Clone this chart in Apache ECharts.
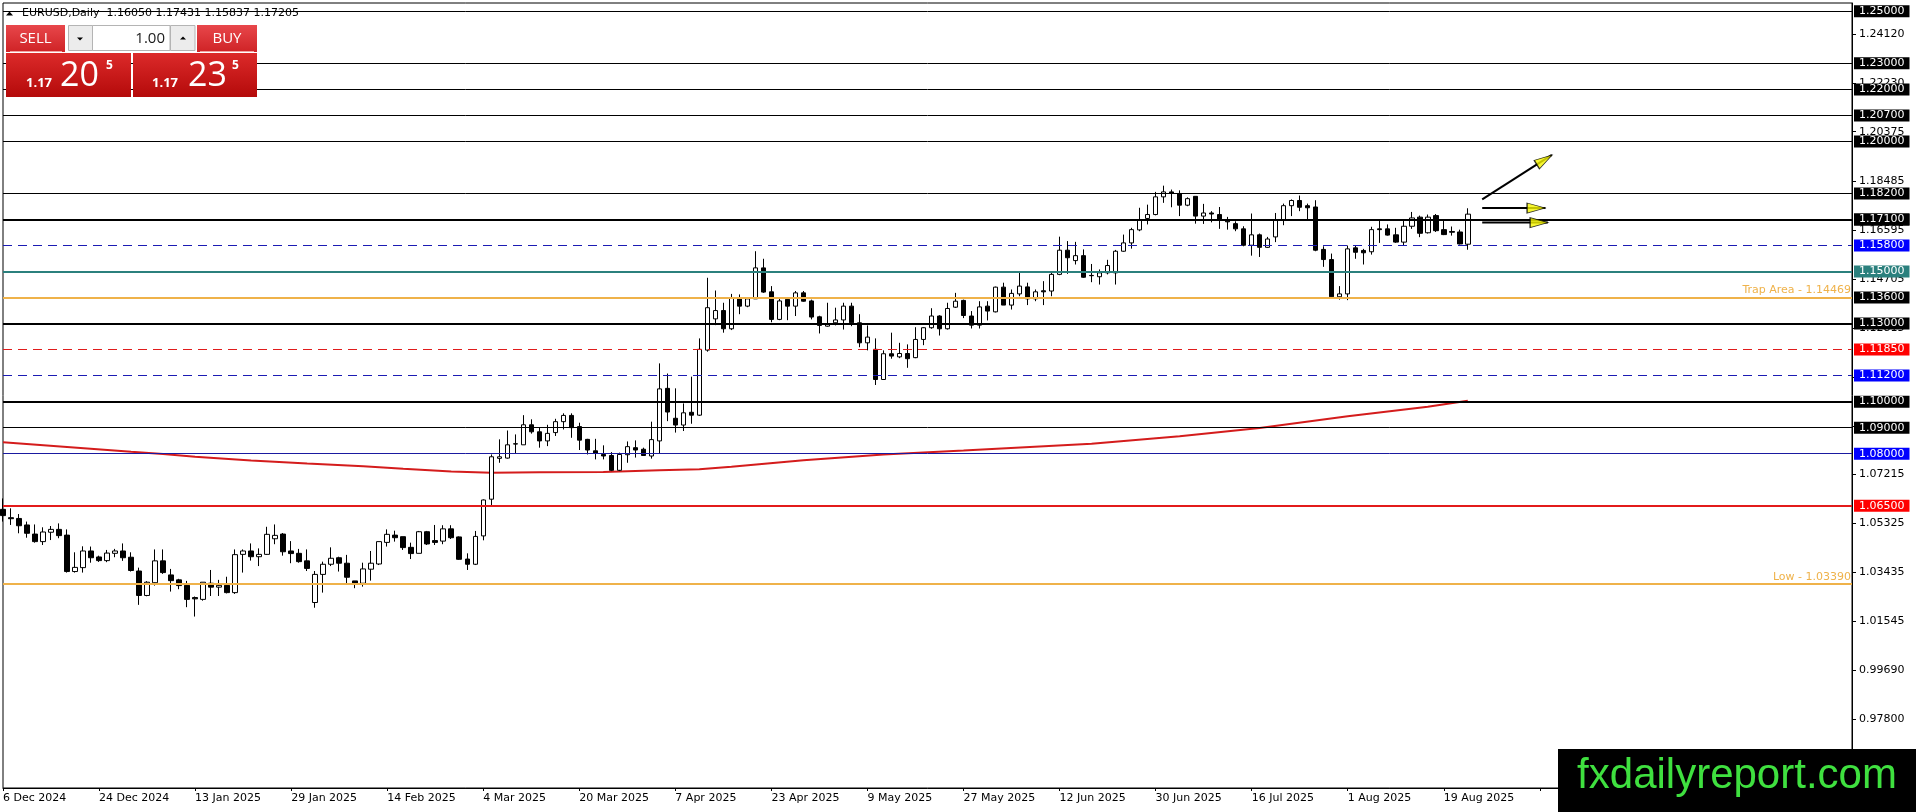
<!DOCTYPE html>
<html>
<head>
<meta charset="utf-8">
<title>EURUSD,Daily</title>
<script src="https://cdn.jsdelivr.net/npm/echarts@6.0.0/dist/echarts.min.js"></script>
<style>
    html, body { margin: 0; padding: 0; background: #fff; }
    #chart { width: 1916px; height: 812px; }
</style>
</head>
<body>
<div id="chart"></div>
<script>
// daily bars, 6 Dec 2024 .. 22 Aug 2025
var dates = [
    '6 Dec 2024','9 Dec 2024','10 Dec 2024','11 Dec 2024','12 Dec 2024','13 Dec 2024','16 Dec 2024','17 Dec 2024','18 Dec 2024','19 Dec 2024','20 Dec 2024','23 Dec 2024','24 Dec 2024','26 Dec 2024','27 Dec 2024','30 Dec 2024','31 Dec 2024',
    '2 Jan 2025','3 Jan 2025','6 Jan 2025','7 Jan 2025','8 Jan 2025','9 Jan 2025','10 Jan 2025','13 Jan 2025','14 Jan 2025','15 Jan 2025','16 Jan 2025','17 Jan 2025','20 Jan 2025','21 Jan 2025','22 Jan 2025','23 Jan 2025','24 Jan 2025','27 Jan 2025','28 Jan 2025','29 Jan 2025','30 Jan 2025','31 Jan 2025',
    '3 Feb 2025','4 Feb 2025','5 Feb 2025','6 Feb 2025','7 Feb 2025','10 Feb 2025','11 Feb 2025','12 Feb 2025','13 Feb 2025','14 Feb 2025','17 Feb 2025','18 Feb 2025','19 Feb 2025','20 Feb 2025','21 Feb 2025','24 Feb 2025','25 Feb 2025','26 Feb 2025','27 Feb 2025','28 Feb 2025',
    '3 Mar 2025','4 Mar 2025','5 Mar 2025','6 Mar 2025','7 Mar 2025','10 Mar 2025','11 Mar 2025','12 Mar 2025','13 Mar 2025','14 Mar 2025','17 Mar 2025','18 Mar 2025','19 Mar 2025','20 Mar 2025','21 Mar 2025','24 Mar 2025','25 Mar 2025','26 Mar 2025','27 Mar 2025','28 Mar 2025','31 Mar 2025',
    '1 Apr 2025','2 Apr 2025','3 Apr 2025','4 Apr 2025','7 Apr 2025','8 Apr 2025','9 Apr 2025','10 Apr 2025','11 Apr 2025','14 Apr 2025','15 Apr 2025','16 Apr 2025','17 Apr 2025','18 Apr 2025','21 Apr 2025','22 Apr 2025','23 Apr 2025','24 Apr 2025','25 Apr 2025','28 Apr 2025','29 Apr 2025','30 Apr 2025',
    '1 May 2025','2 May 2025','5 May 2025','6 May 2025','7 May 2025','8 May 2025','9 May 2025','12 May 2025','13 May 2025','14 May 2025','15 May 2025','16 May 2025','19 May 2025','20 May 2025','21 May 2025','22 May 2025','23 May 2025','26 May 2025','27 May 2025','28 May 2025','29 May 2025','30 May 2025',
    '2 Jun 2025','3 Jun 2025','4 Jun 2025','5 Jun 2025','6 Jun 2025','9 Jun 2025','10 Jun 2025','11 Jun 2025','12 Jun 2025','13 Jun 2025','16 Jun 2025','17 Jun 2025','18 Jun 2025','19 Jun 2025','20 Jun 2025','23 Jun 2025','24 Jun 2025','25 Jun 2025','26 Jun 2025','27 Jun 2025','30 Jun 2025',
    '1 Jul 2025','2 Jul 2025','3 Jul 2025','4 Jul 2025','7 Jul 2025','8 Jul 2025','9 Jul 2025','10 Jul 2025','11 Jul 2025','14 Jul 2025','15 Jul 2025','16 Jul 2025','17 Jul 2025','18 Jul 2025','21 Jul 2025','22 Jul 2025','23 Jul 2025','24 Jul 2025','25 Jul 2025','28 Jul 2025','29 Jul 2025','30 Jul 2025','31 Jul 2025',
    '1 Aug 2025','4 Aug 2025','5 Aug 2025','6 Aug 2025','7 Aug 2025','8 Aug 2025','11 Aug 2025','12 Aug 2025','13 Aug 2025','14 Aug 2025','15 Aug 2025','18 Aug 2025','19 Aug 2025','20 Aug 2025','21 Aug 2025','22 Aug 2025'
];

var opens = [
    1.0586,1.0554,1.0551,1.0526,1.0491,1.0462,1.0498,1.0509,1.0487,1.0347,
    1.0362,1.0426,1.0403,1.0389,1.0417,1.0426,1.0402,1.0349,1.0255,1.0304,
    1.0388,1.0334,1.0315,1.0294,1.0247,1.0240,1.0302,1.0287,1.0294,1.0266,
    1.0413,1.0426,1.0404,1.0413,1.0473,1.0491,1.0426,1.0417,1.0388,1.0228,
    1.0336,1.0375,1.0400,1.0379,1.0311,1.0302,1.0356,1.0376,1.0459,1.0487,
    1.0481,1.0440,1.0417,1.0500,1.0466,1.0464,1.0511,1.0480,1.0395,1.0375,
    1.0484,1.0625,1.0782,1.0783,1.0838,1.0834,1.0911,1.0884,1.0849,1.0881,
    1.0923,1.0947,1.0904,1.0855,1.0811,1.0797,1.0793,1.0736,1.0796,1.0823,
    1.0817,1.0791,1.0849,1.1051,1.0936,1.0910,1.0959,1.0948,1.1198,1.1318,
    1.1350,1.1280,1.1399,1.1367,1.1395,1.1514,1.1422,1.1316,1.1393,1.1367,
    1.1418,1.1387,1.1326,1.1290,1.1303,1.1314,1.1367,1.1303,1.1226,1.1201,
    1.1085,1.1184,1.1172,1.1185,1.1169,1.1239,1.1284,1.1329,1.1280,1.1363,
    1.1389,1.1329,1.1294,1.1367,1.1345,1.1440,1.1371,1.1414,1.1441,1.1395,
    1.1426,1.1425,1.1489,1.1582,1.1542,1.1561,1.1485,1.1480,1.1495,1.1495,
    1.1578,1.1610,1.1660,1.1704,1.1719,1.1787,1.1806,1.1800,1.1755,1.1789,
    1.1713,1.1725,1.1719,1.1700,1.1684,1.1664,1.1601,1.1641,1.1593,1.1633,
    1.1696,1.1753,1.1773,1.1753,1.1748,1.1585,1.1546,1.1403,1.1414,1.1591,
    1.1581,1.1576,1.1664,1.1664,1.1641,1.1613,1.1674,1.1709,1.1649,1.1715,
    1.1661,1.1654,1.1652,1.16050
];
var highs = [
    1.0628,1.0590,1.0568,1.0539,1.0528,1.0517,1.0522,1.0532,1.0509,1.0421,
    1.0444,1.0443,1.0408,1.0430,1.0434,1.0455,1.0421,1.0362,1.0310,1.0432,
    1.0432,1.0357,1.0319,1.0311,1.0251,1.0306,1.0353,1.0315,1.0327,1.0432,
    1.0432,1.0455,1.0436,1.0519,1.0528,1.0495,1.0464,1.0434,1.0432,1.0349,
    1.0385,1.0440,1.0404,1.0411,1.0311,1.0381,1.0426,1.0462,1.0509,1.0504,
    1.0481,1.0458,1.0503,1.0503,1.0526,1.0525,1.0525,1.0482,1.0417,1.0503,
    1.0624,1.0797,1.0855,1.0889,1.0874,1.0948,1.0932,1.0900,1.0911,1.0934,
    1.0955,1.0955,1.0919,1.0857,1.0857,1.0832,1.0806,1.0804,1.0847,1.0851,
    1.0823,1.0923,1.1147,1.1108,1.1051,1.0993,1.1096,1.1243,1.1476,1.1427,
    1.1380,1.1414,1.1412,1.1395,1.1578,1.1549,1.1444,1.1399,1.1395,1.1425,
    1.1425,1.1392,1.1330,1.1380,1.1361,1.1380,1.1380,1.1336,1.1293,1.1243,
    1.1197,1.1265,1.1226,1.1220,1.1286,1.1286,1.1359,1.1332,1.1380,1.1418,
    1.1392,1.1348,1.1386,1.1386,1.1442,1.1457,1.1431,1.1497,1.1457,1.1431,
    1.1463,1.1497,1.1634,1.1617,1.1614,1.1585,1.1529,1.1508,1.1545,1.1583,
    1.1642,1.1668,1.1745,1.1757,1.1806,1.1830,1.1815,1.1812,1.1785,1.1789,
    1.1760,1.1732,1.1748,1.1710,1.1693,1.1674,1.1723,1.1646,1.1633,1.1725,
    1.1761,1.1777,1.1792,1.1761,1.1774,1.1597,1.1569,1.1444,1.1600,1.1600,
    1.1587,1.1672,1.1700,1.1681,1.1668,1.1700,1.1729,1.1715,1.1719,1.1721,
    1.1696,1.1673,1.1661,1.17431
];
var lows = [
    1.0539,1.0526,1.0494,1.0477,1.0458,1.0449,1.0468,1.0475,1.0343,1.0343,
    1.0343,1.0381,1.0384,1.0383,1.0402,1.0388,1.0347,1.0219,1.0252,1.0293,
    1.0338,1.0270,1.0279,1.0210,1.0174,1.0235,1.0253,1.0253,1.0263,1.0261,
    1.0343,1.0389,1.0368,1.0411,1.0452,1.0408,1.0379,1.0381,1.0349,1.0208,
    1.0266,1.0368,1.0347,1.0299,1.0283,1.0289,1.0312,1.0372,1.0443,1.0462,
    1.0430,1.0395,1.0417,1.0449,1.0449,1.0452,1.0472,1.0392,1.0353,1.0372,
    1.0467,1.0599,1.0765,1.0781,1.0800,1.0834,1.0877,1.0823,1.0829,1.0868,
    1.0893,1.0861,1.0814,1.0797,1.0778,1.0778,1.0733,1.0733,1.0765,1.0785,
    1.0791,1.0781,1.0801,1.0925,1.0881,1.0887,1.0915,1.0945,1.1192,1.1294,
    1.1265,1.1275,1.1336,1.1363,1.1395,1.1418,1.1305,1.1313,1.1313,1.1329,
    1.1384,1.1316,1.1262,1.1288,1.1293,1.1277,1.1290,1.1209,1.1197,1.1064,
    1.1085,1.1165,1.1167,1.1130,1.1167,1.1217,1.1280,1.1254,1.1277,1.1360,
    1.1321,1.1281,1.1281,1.1312,1.1343,1.1371,1.1354,1.1405,1.1371,1.1386,
    1.1371,1.1405,1.1486,1.1491,1.1527,1.1476,1.1459,1.1450,1.1489,1.1450,
    1.1576,1.1588,1.1655,1.1681,1.1716,1.1764,1.1747,1.1713,1.1751,1.1684,
    1.1683,1.1689,1.1664,1.1661,1.1655,1.1597,1.1561,1.1556,1.1591,1.1613,
    1.1678,1.1713,1.1732,1.1700,1.1578,1.1518,1.1400,1.1392,1.1390,1.1549,
    1.1527,1.1565,1.1610,1.1638,1.1610,1.1600,1.1664,1.1632,1.1646,1.1652,
    1.1640,1.1638,1.1604,1.15837
];
var closes = [
    1.0562,1.0550,1.0523,1.0494,1.0462,1.0499,1.0509,1.0485,1.0347,1.0363,
    1.0426,1.0400,1.0389,1.0418,1.0426,1.0400,1.0351,1.0255,1.0306,1.0388,
    1.0343,1.0312,1.0293,1.0240,1.0242,1.0306,1.0287,1.0294,1.0266,1.0412,
    1.0426,1.0404,1.0413,1.0490,1.0486,1.0423,1.0416,1.0385,1.0359,1.0336,
    1.0375,1.0398,1.0379,1.0325,1.0302,1.0357,1.0379,1.0462,1.0490,1.0477,
    1.0439,1.0416,1.0500,1.0453,1.0459,1.0511,1.0477,1.0394,1.0375,1.0482,
    1.0622,1.0788,1.0788,1.0834,1.0837,1.0911,1.0884,1.0849,1.0878,1.0923,
    1.0947,1.0900,1.0852,1.0814,1.0801,1.0791,1.0736,1.0797,1.0827,1.0814,
    1.0793,1.0854,1.1049,1.0960,1.0910,1.0957,1.0948,1.1201,1.1361,1.1350,
    1.1280,1.1399,1.1367,1.1395,1.1514,1.1421,1.1316,1.1387,1.1367,1.1418,
    1.1386,1.1325,1.1293,1.1300,1.1314,1.1367,1.1303,1.1226,1.1248,1.1085,
    1.1184,1.1175,1.1185,1.1165,1.1239,1.1284,1.1329,1.1280,1.1358,1.1386,
    1.1331,1.1294,1.1364,1.1348,1.1440,1.1371,1.1416,1.1444,1.1395,1.1422,
    1.1422,1.1489,1.1582,1.1553,1.1561,1.1478,1.1484,1.1495,1.1523,1.1578,
    1.1610,1.1661,1.1700,1.1719,1.1787,1.1806,1.1800,1.1755,1.1780,1.1713,
    1.1725,1.1721,1.1697,1.1691,1.1664,1.1601,1.1641,1.1593,1.1625,1.1696,
    1.1753,1.1773,1.1747,1.1745,1.1582,1.1546,1.1403,1.1414,1.1587,1.1574,
    1.1572,1.1661,1.1661,1.1640,1.1613,1.1674,1.1706,1.1647,1.1709,1.1657,
    1.1642,1.1651,1.1606,1.17205
];

// moving average, read at these bar indexes
var maIndex  = [0, 8, 16, 20, 24, 31, 38, 45, 50, 56, 61, 67, 75, 82, 87, 91, 100, 110, 120, 136, 147, 157, 168, 178, 183];
var maValues = [1.0844, 1.0826, 1.0807, 1.0799, 1.0788, 1.0774, 1.0762, 1.0752, 1.0742, 1.0731, 1.0727, 1.0729, 1.0730, 1.0736, 1.0740, 1.0750, 1.0775, 1.0797, 1.0812, 1.0838, 1.0867, 1.0899, 1.0944, 1.0980, 1.1003];

// horizontal levels
var levels = [1.25, 1.23, 1.22, 1.207, 1.20, 1.182, 1.171, 1.158, 1.15, 1.136, 1.13, 1.1185, 1.112, 1.10, 1.09, 1.08, 1.065];
var bidPrice = 1.17205;
var trapLevel = 1.14469;
var lowLevel = 1.03390;

// right scale tick labels
var yTicks = [1.24120, 1.22230, 1.20375, 1.18485, 1.16595, 1.14705, 1.12815, 1.10925, 1.09035, 1.07215, 1.05325, 1.03435, 1.01545, 0.99690, 0.97800];

// arrows drawn on the chart: [bar index, price]
var arrowFrom  = [[184.8, 1.1777], [184.8, 1.1744], [184.8, 1.1688]];
var arrowTo    = [[193.5, 1.1948], [192.7, 1.1744], [193.0, 1.1688]];
var arrowHeads = [[192.58, 1.19294], [191.53, 1.1744], [191.91, 1.1688]];

var N = 232;
var categories = dates.slice();
while (categories.length < N) categories.push('');

var candles = opens.map(function (o, i) { return [o, closes[i], lows[i], highs[i]]; });
var maData = maIndex.map(function (x, i) { return [x, maValues[i]]; });

var BLACK = '#000000', BLUE_BOX = '#0000ff', RED_BOX = '#ff0000', TEAL = '#2b807d';
var ORANGE = '#efb24a';

function levelLook(v) {
    // [line colour, width, dash, label box colour]
    if (v === 1.158 || v === 1.112) return ['#1c1cb4', 1, [9, 6], BLUE_BOX];
    if (v === 1.1185) return ['#e01c1c', 1, [9, 6], RED_BOX];
    if (v === 1.15) return [TEAL, 2, 'solid', TEAL];
    if (v === 1.08) return ['#1a1aa0', 1, 'solid', BLUE_BOX];
    if (v === 1.065) return ['#e31b1b', 2, 'solid', RED_BOX];
    if (v === 1.171 || v === 1.136 || v === 1.13 || v === 1.10) return [BLACK, 2, 'solid', BLACK];
    return [BLACK, 1, 'solid', BLACK];
}

function boxLabel(v, bg) {
    return {
        show: true, position: 'end', distance: 2,
        formatter: v.toFixed(5),
        color: '#fff', backgroundColor: bg,
        fontFamily: 'DejaVu Sans', fontSize: 11, lineHeight: 11,
        padding: [1, 5, 0, 5]
    };
}

var markData = [{
    yAxis: bidPrice,
    lineStyle: { color: '#c0c0c0', width: 1, type: 'solid' },
    label: boxLabel(bidPrice, BLACK)
}];
levels.forEach(function (v) {
    var s = levelLook(v);
    markData.push({
        yAxis: v,
        lineStyle: { color: s[0], width: s[1], type: s[2] },
        label: boxLabel(v, s[3])
    });
});
[[trapLevel, 'Trap Area - '], [lowLevel, 'Low - ']].forEach(function (t) {
    markData.push({
        yAxis: t[0],
        lineStyle: { color: ORANGE, width: 2, type: 'solid' },
        label: {
            show: true, position: 'insideEndTop', distance: [1, 1],
            formatter: t[1] + t[0].toFixed(5),
            color: ORANGE, fontFamily: 'DejaVu Sans', fontSize: 11, lineHeight: 12, padding: 0
        }
    });
});

var headerText = 'EURUSD,Daily  ' + [opens, highs, lows, closes].map(function (a) {
    return a[a.length - 1].toFixed(5);
}).join(' ');

var arrowSeries = arrowFrom.map(function (p, i) {
    return {
        type: 'line', xAxisIndex: 1, yAxisIndex: 0,
        data: [p, arrowTo[i]], symbol: 'none', silent: true, z: 6,
        lineStyle: { color: '#000', width: 2 }
    };
});

var redBtn = { type: 'linear', x: 0, y: 0, x2: 0, y2: 1, colorStops: [{ offset: 0, color: '#e8474b' }, { offset: 1, color: '#cf2326' }] };
var redPrice = { type: 'linear', x: 0, y: 0, x2: 0, y2: 1, colorStops: [{ offset: 0, color: '#dc2a2a' }, { offset: 1, color: '#b40a0a' }] };

var chart = echarts.init(document.getElementById('chart'));

var option = {
    animation: false,
    backgroundColor: '#fff',
    grid: {
        left: 3, right: 64, top: 3, bottom: 24,
        show: true, borderColor: '#000', borderWidth: 1, backgroundColor: '#fff'
    },
    xAxis: [{
        type: 'category',
        data: categories,
        boundaryGap: false,
        axisLine: { show: true, lineStyle: { color: '#000', width: 1 } },
        axisTick: { show: true, interval: 11, length: 3, lineStyle: { color: '#000' } },
        axisLabel: {
            interval: 11, align: 'left', margin: 5,
            color: '#000', fontFamily: 'DejaVu Sans', fontSize: 11
        },
        splitLine: { show: false }
    }, {
        type: 'value', min: 0, max: N - 1, show: false
    }],
    yAxis: {
        type: 'value',
        position: 'right',
        min: 0.95151,
        max: 1.25320,
        axisLine: { show: true, onZero: false, lineStyle: { color: '#000', width: 1 } },
        axisTick: { show: true, length: 4, customValues: yTicks, lineStyle: { color: '#000' } },
        axisLabel: {
            customValues: yTicks, margin: 7,
            formatter: function (v) { return v.toFixed(5); },
            color: '#000', fontFamily: 'DejaVu Sans', fontSize: 11
        },
        splitLine: { show: false }
    },
    series: [{
        type: 'line', xAxisIndex: 1, yAxisIndex: 0,
        data: maData, symbol: 'none', silent: true, z: 2,
        lineStyle: { color: '#d41c1c', width: 2 }
    }, {
        type: 'candlestick',
        data: candles,
        barWidth: 5,
        z: 3,
        itemStyle: {
            color: '#ffffff', color0: '#000000',
            borderColor: '#000000', borderColor0: '#000000', borderWidth: 1
        },
        markLine: {
            silent: true, symbol: ['none', 'none'], animation: false,
            data: markData
        }
    }].concat(arrowSeries).concat([{
        type: 'scatter', xAxisIndex: 1, yAxisIndex: 0, silent: true, z: 7,
        symbol: 'path://M0,0L20,6L0,12Z', symbolSize: [18, 10],
        itemStyle: { color: '#f5f500', borderColor: '#000', borderWidth: 1 },
        data: arrowHeads.map(function (p, i) {
            return { value: p, symbolRotate: i === 0 ? 32 : 0 };
        })
    }]),
    graphic: [
        { type: 'polygon', z: 100, shape: { points: [[6, 15.5], [9.5, 11.5], [13, 15.5]] }, style: { fill: '#000' } },
        { type: 'text', z: 100, x: 22, y: 13.5, style: { text: headerText, fill: '#000', font: '11px "DejaVu Sans"', verticalAlign: 'middle' } },

        { type: 'rect', z: 100, shape: { x: 6, y: 25, width: 59, height: 27 }, style: { fill: redBtn } },
        { type: 'line', z: 101, shape: { x1: 10, y1: 51.5, x2: 62, y2: 51.5 }, style: { stroke: '#f2a3a3', lineWidth: 1 } },
        { type: 'text', z: 101, x: 35.5, y: 39, style: { text: 'SELL', fill: '#fff', font: '15px "Open Sans"', align: 'center', verticalAlign: 'middle' } },
        { type: 'rect', z: 100, shape: { x: 68.5, y: 25.5, width: 24, height: 25 }, style: { fill: '#ececec', stroke: '#b4b4b4', lineWidth: 1 } },
        { type: 'polygon', z: 101, shape: { points: [[77, 37.5], [83, 37.5], [80, 40.5]] }, style: { fill: '#000' } },
        { type: 'rect', z: 100, shape: { x: 92.5, y: 25.5, width: 77.5, height: 25 }, style: { fill: '#fff', stroke: '#b4b4b4', lineWidth: 1 } },
        { type: 'text', z: 101, x: 165, y: 38.5, style: { text: '1.00', fill: '#1a1a1a', font: '15px "Open Sans"', align: 'right', verticalAlign: 'middle' } },
        { type: 'rect', z: 100, shape: { x: 170.5, y: 25.5, width: 24.5, height: 25 }, style: { fill: '#ececec', stroke: '#b4b4b4', lineWidth: 1 } },
        { type: 'polygon', z: 101, shape: { points: [[180, 39.5], [186, 39.5], [183, 36.5]] }, style: { fill: '#000' } },
        { type: 'rect', z: 100, shape: { x: 197, y: 25, width: 60, height: 27 }, style: { fill: redBtn } },
        { type: 'line', z: 101, shape: { x1: 200, y1: 51.5, x2: 254, y2: 51.5 }, style: { stroke: '#f2a3a3', lineWidth: 1 } },
        { type: 'text', z: 101, x: 227, y: 39, style: { text: 'BUY', fill: '#fff', font: '15px "Open Sans"', align: 'center', verticalAlign: 'middle' } },

        { type: 'rect', z: 100, shape: { x: 6, y: 53, width: 125, height: 44 }, style: { fill: redPrice } },
        { type: 'rect', z: 100, shape: { x: 133, y: 53, width: 124, height: 44 }, style: { fill: redPrice } },
        { type: 'text', z: 101, x: 26, y: 83, style: { text: '1.17', fill: '#fff', font: 'bold 13px "Open Sans"', verticalAlign: 'middle' } },
        { type: 'text', z: 101, x: 60, y: 76, style: { text: '20', fill: '#fff', font: '34px "Open Sans"', verticalAlign: 'middle' } },
        { type: 'text', z: 101, x: 106, y: 66, style: { text: '5', fill: '#fff', font: 'bold 12px "Open Sans"', verticalAlign: 'middle' } },
        { type: 'text', z: 101, x: 152, y: 83, style: { text: '1.17', fill: '#fff', font: 'bold 13px "Open Sans"', verticalAlign: 'middle' } },
        { type: 'text', z: 101, x: 188, y: 76, style: { text: '23', fill: '#fff', font: '34px "Open Sans"', verticalAlign: 'middle' } },
        { type: 'text', z: 101, x: 232, y: 66, style: { text: '5', fill: '#fff', font: 'bold 12px "Open Sans"', verticalAlign: 'middle' } },

        { type: 'rect', z: 100, shape: { x: 1558, y: 749, width: 358, height: 63 }, style: { fill: '#000' } },
        { type: 'text', z: 101, x: 1737, y: 776, style: { text: 'fxdailyreport.com', fill: '#3fe03f', font: '42px "Liberation Sans"', align: 'center', verticalAlign: 'middle' } }
    ]
};

chart.setOption(option);
</script>
</body>
</html>
